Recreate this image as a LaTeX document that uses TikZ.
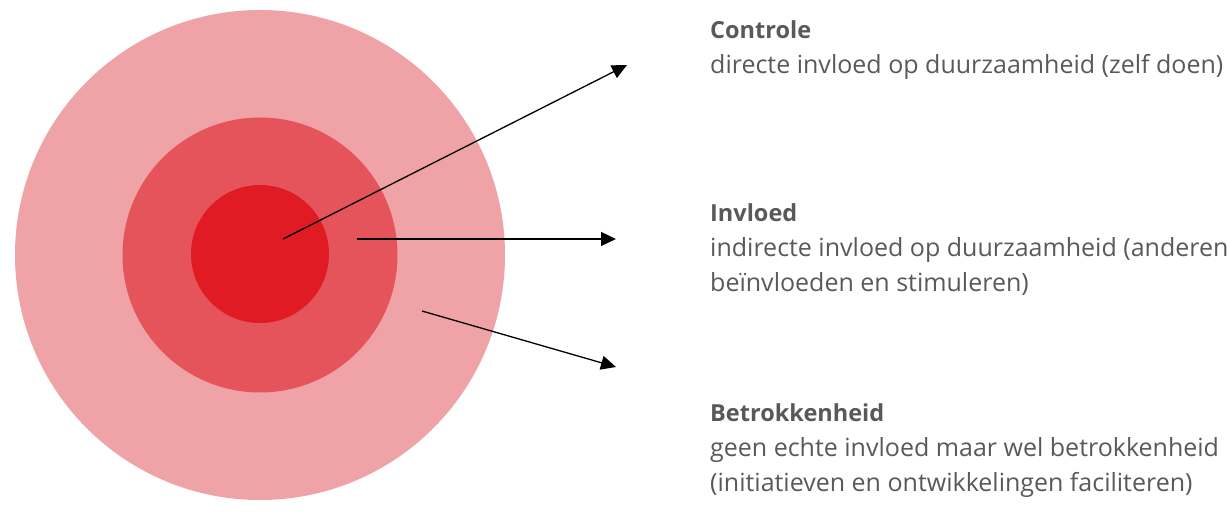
\documentclass[tikz,border=0pt]{standalone}
\usepackage{fontspec}
\setmainfont{Open Sans}
\usetikzlibrary{arrows.meta}
\tikzset{>={Triangle[width=14pt,length=15pt]}}
\definecolor{ringout}{HTML}{EFA3A7}
\definecolor{ringmid}{HTML}{E5545B}
\definecolor{ringin}{HTML}{E01B24}
\definecolor{textgray}{HTML}{595959}
\tikzset{
  head/.style={anchor=base west, inner sep=0pt, text=textgray,
    font=\fontsize{23.5}{28}\selectfont\bfseries},
  body/.style={anchor=base west, inner sep=0pt, text=textgray,
    font=\fontsize{25}{30}\selectfont},
}

\begin{document}
\begin{tikzpicture}[x=1pt,y=-1pt]
\useasboundingbox (0,0) rectangle (1227,518);

% rings
\fill[ringout] (260,255) circle (245);
\fill[ringmid] (260,255) circle (137.5);
\fill[ringin]  (260,254) circle (69);

% arrow ends
\coordinate (cstart) at (283,239);
\coordinate (cend)   at (627,65);
\coordinate (istart) at (357,239);
\coordinate (iend)   at (616,239);
\coordinate (bstart) at (422,311);
\coordinate (bend)   at (616,367);

\draw[->, line width=1.3pt] (cstart) -- (cend);
\draw[->, line width=1.3pt] (istart) -- (iend);
\draw[->, line width=1.3pt] (bstart) -- (bend);

% labels
\node[head] (controle) at (710,39) {Controle};
\node[body] (controle1) at (710,74) {directe invloed op duurzaamheid (zelf doen)};

\node[head] (invloed) at (710,222) {Invloed};
\node[body] (invloed1) at (710,257) {indirecte invloed op duurzaamheid (anderen};
\node[body] (invloed2) at (710,292) {beïnvloeden en stimuleren)};

\node[head] (betrok) at (710,422) {Betrokkenheid};
\node[body] (betrok1) at (710,457) {geen echte invloed maar wel betrokkenheid};
\node[body] (betrok2) at (710,492) {(initiatieven en ontwikkelingen faciliteren)};
\end{tikzpicture}
\end{document}
